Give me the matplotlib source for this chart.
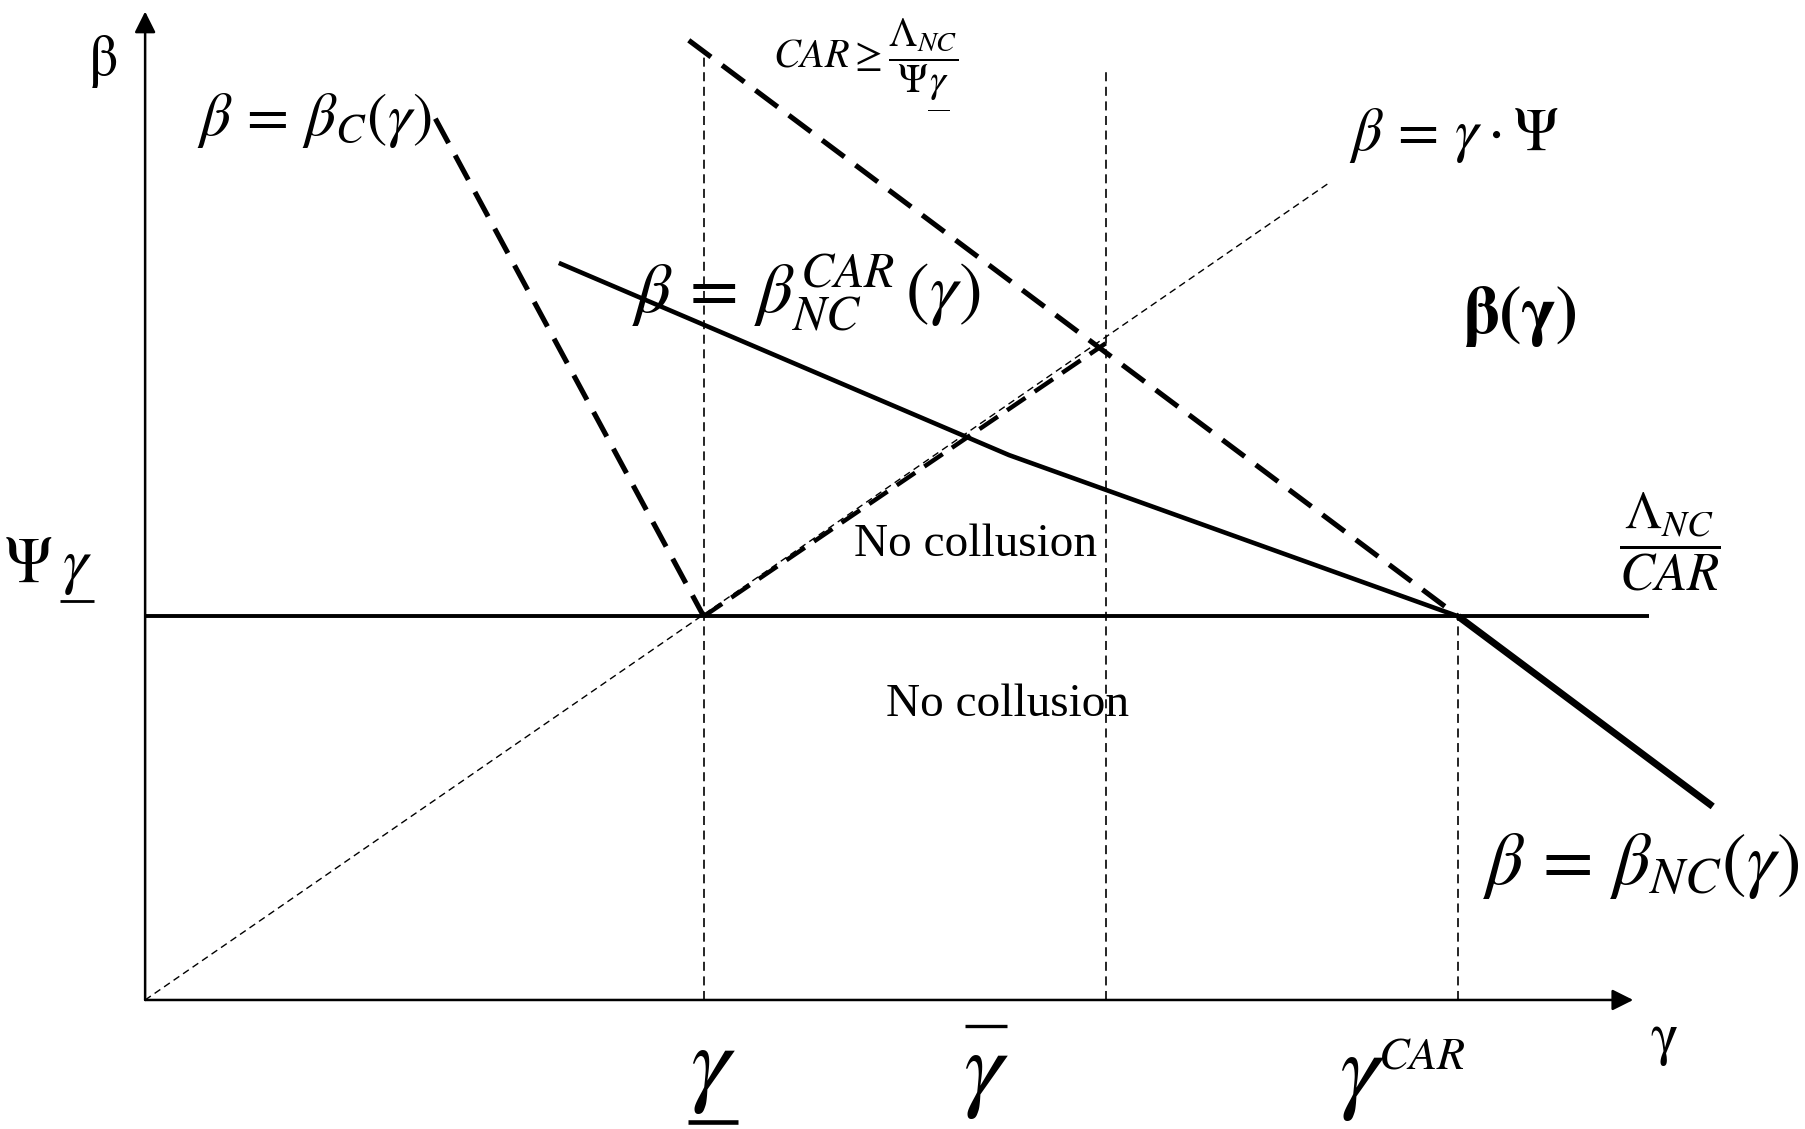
import matplotlib
matplotlib.use('Agg')
import matplotlib.pyplot as plt
from matplotlib import mathtext
from matplotlib.lines import Line2D
from matplotlib.transforms import IdentityTransform

plt.rcParams['mathtext.fontset'] = 'stix'
plt.rcParams['font.family'] = ['Liberation Serif', 'DejaVu Serif']
plt.rcParams['lines.scale_dashes'] = False

# ---- diagram values (schematic units) ----
gamma_low = 485          # underline gamma
gamma_bar = 834          # overline gamma
gamma_car = 1140         # gamma^CAR
psi_gamma_low = 333      # Psi * underline gamma (= Lambda_NC / CAR)

x_axis_end = 1292
y_axis_end = 858
hline_end = 1306

# beta = beta_C(gamma) (dashed)
betaC_x = [252, gamma_low]
betaC_y = [765, psi_gamma_low]
# CAR >= Lambda/(Psi gamma) (dashed)
car_x = [472, gamma_car]
car_y = [833, psi_gamma_low]
# beta = beta_NC^CAR(gamma) (solid, kinked)
bncar_x = [361, 750, gamma_car]
bncar_y = [639, 473, psi_gamma_low]
# beta = beta_NC(gamma) (thick solid)
bnc_x = [gamma_car, 1361]
bnc_y = [psi_gamma_low, 168]
# beta = gamma * Psi (thin dotted ray)
ray_x = [0, 1029]
ray_y = [0, 710]
# thick dashed portion on the ray between gamma_low and gamma_bar
rayseg_x = [gamma_low, gamma_bar]
rayseg_y = [psi_gamma_low, 570]
# vertical guide tops
vtop_low = 823
vtop_bar = 806


def parses(s):
    try:
        mathtext.MathTextParser('path').parse('$' + s + '$')
        return True
    except Exception:
        return False


if parses(r'\underline{\gamma}'):
    UL_G = r'\underline{\gamma}'
elif parses(r'\underset{\overline{\quad}}{\gamma}'):
    UL_G = r'\underset{\overline{\quad}}{\gamma}'
else:
    UL_G = r'\gamma'

fig = plt.figure(figsize=(18.06, 11.29), dpi=100)
ax = fig.add_axes([0, 0, 1, 1])
ax.set_xlim(-126, 1442)
ax.set_ylim(-112, 868)
ax.axis('off')

# axes with arrows
arrow = dict(arrowstyle='-|>', lw=1.8, color='black', mutation_scale=32,
             shrinkA=0, shrinkB=0)
ax.annotate('', xy=(0, y_axis_end), xytext=(0, 0), arrowprops=arrow)
ax.annotate('', xy=(x_axis_end, 0), xytext=(0, 0), arrowprops=arrow)

# horizontal Psi*gamma_low line
ax.plot([0, hline_end], [psi_gamma_low, psi_gamma_low], color='black', lw=2.8,
        solid_capstyle='butt')

# vertical guides
vdash = dict(color='black', lw=1.2, dashes=(6.5, 4))
ax.plot([gamma_low, gamma_low], [0, vtop_low], **vdash)
ax.plot([gamma_bar, gamma_bar], [0, vtop_bar], **vdash)
ax.plot([gamma_car, gamma_car], [0, psi_gamma_low], **vdash)

# thin ray beta = gamma Psi
ax.plot(ray_x, ray_y, color='black', lw=1.0, dashes=(5, 3.3))

# thick dashed curves
tdash = dict(color='black', lw=3.7, dashes=(20, 10), dash_capstyle='butt')
ax.plot(betaC_x, betaC_y, **tdash)
ax.plot(car_x, car_y, **tdash)
ax.plot(rayseg_x, rayseg_y, color='black', lw=3.2, dashes=(16, 8))

# solid curves
ax.plot(bncar_x, bncar_y, color='black', lw=3.3, solid_joinstyle='miter')
ax.plot(bnc_x, bnc_y, color='black', lw=5.0, solid_capstyle='butt')

# ---- texts ----
ax.text(-36, 815, 'β', fontsize=42, family='STIXGeneral', ha='center', va='center')
ax.text(1319, -34, 'γ', fontsize=42, family='STIXGeneral', ha='center', va='center')

ax.text(147, 763, r'$\beta\,=\,\beta_C(\gamma)$', fontsize=44, ha='center', va='center')
ax.text(626, 813, r'$CAR\geq\dfrac{\Lambda_{NC}}{\Psi' + UL_G + '}$',
        fontsize=29, ha='center', va='center')
ax.text(574, 613, r'$\beta\,=\,\beta_{NC}^{CAR}\,\left(\gamma\right)$', fontsize=51,
        ha='center', va='center')
ax.text(1136, 750, r'$\beta\,=\,\gamma\cdot\Psi$', fontsize=43, ha='center', va='center')
ax.text(1194, 593, 'β(γ)', fontsize=48, family='STIXGeneral', fontweight='bold',
        ha='center', va='center')

ax.text(721, 395, 'No collusion', fontsize=34, ha='center', va='center')
ax.text(749, 256, 'No collusion', fontsize=34, ha='center', va='center')

# Psi * underline(gamma) on the vertical axis
ax.text(-102, 363, r'$\Psi$', fontsize=46, ha='center', va='baseline')
t_psig = ax.text(-72, 363, r'$\gamma$', fontsize=46, ha='left', va='baseline')

ax.text(1324, 398, r'$\dfrac{\Lambda_{NC}}{CAR}$', fontsize=38, ha='center', va='center')

# labels under the gamma axis
t_glow = ax.text(493, -62, r'$\gamma$', fontsize=72, ha='center', va='center')
t_gbar = ax.text(730, -66, r'$\gamma$', fontsize=72, ha='center', va='center')
ax.text(1056, -68, r'$\gamma$', fontsize=72, ha='center', va='center')
ax.text(1108, -50, r'$CAR$', fontsize=33, ha='center', va='center')

ax.text(1299, 116, r'$\beta\,=\,\beta_{NC}(\gamma)$', fontsize=53, ha='center', va='center')

# under/over bars derived from the rendered text extents
fig.canvas.draw()
renderer = fig.canvas.get_renderer()


def add_bar(t, where, gap, lw, ext=0.0):
    bb = t.get_window_extent(renderer)
    y = bb.y0 - gap if where == 'below' else bb.y1 + gap
    fig.add_artist(Line2D([bb.x0 - ext, bb.x1 + ext], [y, y], transform=IdentityTransform(),
                          color='black', lw=lw, solid_capstyle='butt'))


add_bar(t_psig, 'below', 4, 2.0, 2)
add_bar(t_glow, 'below', 6, 3.3, 2)
add_bar(t_gbar, 'above', 5, 2.4, -2)

fig.savefig('out.png', dpi=100)
